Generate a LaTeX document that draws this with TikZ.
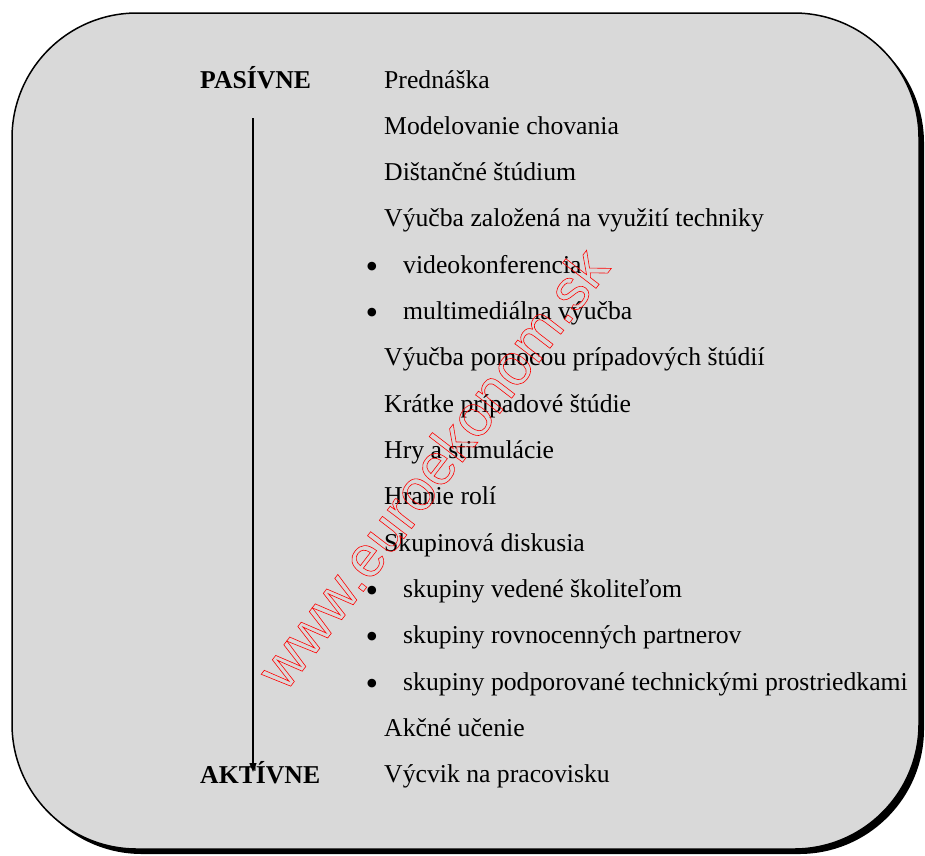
\documentclass[tikz,border=0pt]{standalone}
\usepackage{fontspec}
\setmainfont{Liberation Serif}
\newfontfamily\wmfont{Liberation Sans}
\usetikzlibrary{arrows.meta}
\tikzset{
  item/.style={anchor=base west, inner sep=0pt, font=\fontsize{25.7}{30}\selectfont},
  bul/.style={anchor=base, inner sep=0pt, font=\fontsize{36}{40}\selectfont},
  pole/.style={anchor=base west, inner sep=0pt, font=\fontsize{25.7}{30}\selectfont\bfseries},
}
\begin{document}
\begin{tikzpicture}[x=1pt,y=-1pt]
\useasboundingbox (0,0) rectangle (925,855);
% shadow and box
\fill[black] (17,18) [rounded corners=125pt] rectangle (924,854);
\draw[line width=1.5pt, fill={rgb,255:red,217;green,217;blue,217}] (12,13) [rounded corners=125pt] rectangle (919,849);
% poles
\node[pole] (pas) at (200,88) {PASÍVNE};
\node[pole] (akt) at (200,783) {AKTÍVNE};
\coordinate (atop) at (253,118);
\coordinate (abot) at (253,772);
\draw[line width=1.3pt, -{Triangle[length=9pt,width=7pt]}] (atop) -- (abot);
% items
\def\dy{46.33}
\def\bo{5}
\node[item] (i1) at (384,88) {Prednáška};
\node[item] (i2) at (384,88+1*\dy) {Modelovanie chovania};
\node[item] (i3) at (384,88+2*\dy) {Dištančné štúdium};
\node[item] (i4) at (384,88+3*\dy) {Výučba založená na využití techniky};
\node[bul] (b5) at (372,88+\bo+4*\dy) {•};
\node[item] (i5) at (403,88+4*\dy) {videokonferencia};
\node[bul] (b6) at (372,88+\bo+5*\dy) {•};
\node[item] (i6) at (403,88+5*\dy) {multimediálna výučba};
\node[item] (i7) at (384,88+6*\dy) {Výučba pomocou prípadových štúdií};
\node[item] (i8) at (384,88+7*\dy) {Krátke prípadové štúdie};
\node[item] (i9) at (384,88+8*\dy) {Hry a stimulácie};
\node[item] (i10) at (384,88+9*\dy) {Hranie rolí};
\node[item] (i11) at (384,88+10*\dy) {Skupinová diskusia};
\node[bul] (b12) at (372,88+\bo+11*\dy) {•};
\node[item] (i12) at (403,88+11*\dy) {skupiny vedené školiteľom};
\node[bul] (b13) at (372,88+\bo+12*\dy) {•};
\node[item] (i13) at (403,88+12*\dy) {skupiny rovnocenných partnerov};
\node[bul] (b14) at (372,88+\bo+13*\dy) {•};
\node[item] (i14) at (403,88+13*\dy) {skupiny podporované technickými prostriedkami};
\node[item] (i15) at (384,88+14*\dy) {Akčné učenie};
\node[item] (i16) at (384,88+15*\dy) {Výcvik na pracovisku};
% watermark
\node[inner sep=0pt, text=red, rotate=52.5, font=\wmfont\fontsize{58}{62}\selectfont] (wm) at (432,468)
  {\special{pdf:code 1 Tr 0.6 w}www.euroekonom.sk\special{pdf:code 0 Tr}};
\end{tikzpicture}
\end{document}
